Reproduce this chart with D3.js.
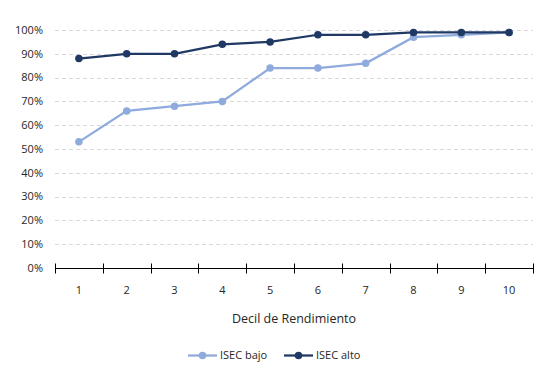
<!DOCTYPE html>
<html>
<head>
<meta charset="utf-8">
<script src="https://cdn.jsdelivr.net/npm/d3@7"></script>
<style>
  body { margin: 0; background: #fff; }
  text { font-family: "Open Sans", "Liberation Sans", sans-serif; fill: #262626; }
</style>
</head>
<body>
<svg id="chart" width="550" height="379"></svg>
<script>
// ---- data ----
var deciles = ["1","2","3","4","5","6","7","8","9","10"];
var isec_bajo = [53, 66, 68, 70, 84, 84, 86, 97, 98, 99];
var isec_alto = [88, 90, 90, 94, 95, 98, 98, 99, 99, 99];
var y_ticks = [0,10,20,30,40,50,60,70,80,90,100];
var series_names = ["ISEC bajo", "ISEC alto"];
var series_colors = ["#8faadc", "#1f3864"];

// ---- layout ----
var svg = d3.select("#chart");
var plot_left = 55, plot_right = 533, plot_top = 30, plot_bottom = 268;

var x = d3.scaleBand().domain(deciles).range([plot_left, plot_right]);
var y = d3.scaleLinear().domain([0, 100]).range([plot_bottom, plot_top]);

// gridlines
svg.append("g")
  .selectAll("line")
  .data(y_ticks.filter(function(d){ return d > 0; }))
  .enter()
  .append("line")
  .attr("x1", plot_left).attr("x2", plot_right)
  .attr("y1", function(d){ return Math.round(y(d)) + 0.5; })
  .attr("y2", function(d){ return Math.round(y(d)) + 0.5; })
  .attr("stroke", "#d9d9d9")
  .attr("stroke-dasharray", "4,3");

// y labels
svg.append("g")
  .selectAll("text")
  .data(y_ticks)
  .enter()
  .append("text")
  .attr("x", 43)
  .attr("y", function(d){ return y(d); })
  .attr("dy", "0.35em")
  .attr("text-anchor", "end")
  .style("font-size", "11px")
  .text(function(d){ return d + "%"; });

// x axis
var xAxis = svg.append("g")
  .attr("transform", "translate(0," + (plot_bottom + 0.5) + ")");
xAxis.append("line")
  .attr("x1", plot_left).attr("x2", plot_right)
  .attr("stroke", "#000");
var edges = deciles.map(function(d){ return x(d); }).concat([plot_right]);
xAxis.selectAll(".tk")
  .data(edges)
  .enter()
  .append("line")
  .attr("class", "tk")
  .attr("x1", function(d){ return Math.round(d) + 0.5; })
  .attr("x2", function(d){ return Math.round(d) + 0.5; })
  .attr("y1", -5).attr("y2", 5)
  .attr("stroke", "#000");
xAxis.selectAll("text")
  .data(deciles)
  .enter()
  .append("text")
  .attr("x", function(d){ return x(d) + x.bandwidth() / 2; })
  .attr("y", 25)
  .attr("text-anchor", "middle")
  .style("font-size", "11px")
  .text(function(d){ return d; });

svg.append("text")
  .attr("x", (plot_left + plot_right) / 2)
  .attr("y", 323)
  .attr("text-anchor", "middle")
  .style("font-size", "12.5px")
  .text("Decil de Rendimiento");

// lines
var line = d3.line()
  .x(function(d, i){ return x(deciles[i]) + x.bandwidth() / 2; })
  .y(function(d){ return y(d); });

[isec_bajo, isec_alto].forEach(function(vals, k) {
  var g = svg.append("g");
  g.append("path")
    .attr("d", line(vals))
    .attr("fill", "none")
    .attr("stroke", series_colors[k])
    .attr("stroke-width", 2.25);
  g.selectAll("circle")
    .data(vals)
    .enter()
    .append("circle")
    .attr("cx", function(d, i){ return x(deciles[i]) + x.bandwidth() / 2; })
    .attr("cy", function(d){ return y(d); })
    .attr("r", 3.75)
    .attr("fill", series_colors[k]);
});

// legend
var legend_x = [188, 284];
series_names.forEach(function(name, k) {
  var g = svg.append("g").attr("transform", "translate(" + legend_x[k] + ",355.5)");
  g.append("line").attr("x1", 0).attr("x2", 29)
    .attr("stroke", series_colors[k]).attr("stroke-width", 2.25);
  g.append("circle").attr("cx", 14.5).attr("cy", 0).attr("r", 3.75)
    .attr("fill", series_colors[k]);
  g.append("text").attr("x", 32).attr("y", 0).attr("dy", "0.35em")
    .style("font-size", "11px").text(name);
});
</script>
</body>
</html>
